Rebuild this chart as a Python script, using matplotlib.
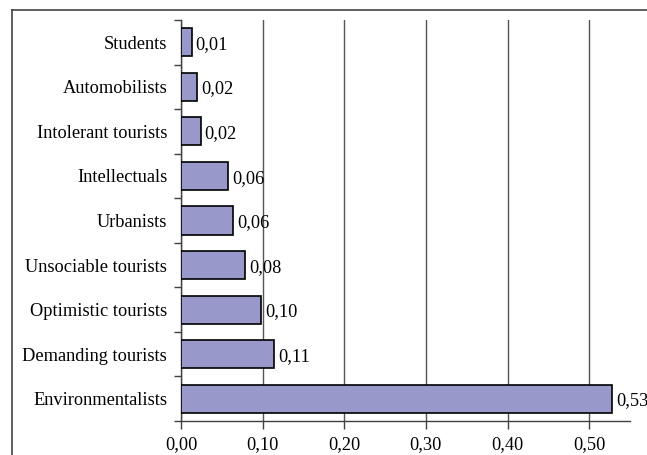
import matplotlib
matplotlib.use("Agg")
import matplotlib.pyplot as plt
import numpy as np
from matplotlib.lines import Line2D

plt.rcParams['font.family'] = ['Liberation Serif', 'DejaVu Serif']

# tourist segments, top to bottom
segments = ["Students", "Automobilists", "Intolerant tourists", "Intellectuals",
            "Urbanists", "Unsociable tourists", "Optimistic tourists",
            "Demanding tourists", "Environmentalists"]
shares = [0.013, 0.020, 0.024, 0.058, 0.064, 0.079, 0.098, 0.114, 0.528]
xticks = [0.0, 0.1, 0.2, 0.3, 0.4, 0.5]

fs = 13.2

fig = plt.figure(figsize=(6.47, 4.55), dpi=100)
ax = fig.add_axes([0.2797, 0.0747, 0.9737 - 0.2797, 0.956 - 0.0747])

pos = np.arange(len(segments))
ax.barh(pos, shares, height=0.63, color="#9898cb", edgecolor="black",
        linewidth=1.2, zorder=3)

for p, v in zip(pos, shares):
    ax.text(v + 0.005, p + 0.05, ("%.2f" % v).replace(".", ","),
            va="center", ha="left", fontsize=fs, zorder=4)

ax.set_ylim(len(segments) - 0.5, -0.5)
ax.set_xlim(0, 0.55)

ax.set_yticks(pos)
ax.set_yticklabels(segments, fontsize=fs)
ax.set_yticks(np.arange(len(segments) + 1) - 0.5, minor=True)
ax.tick_params(axis="y", which="major", length=0, pad=10)
ax.tick_params(axis="y", which="minor", length=5, width=1, color="#404040",
               direction="out")

ax.set_xticks(xticks)
ax.set_xticklabels([("%.2f" % t).replace(".", ",") for t in xticks], fontsize=fs)
ax.tick_params(axis="x", length=6, width=1, color="#404040", direction="out",
               pad=5)

ax.xaxis.grid(True, color="#555555", linewidth=1.0, zorder=0)
ax.set_axisbelow(True)

for s in ["top", "right"]:
    ax.spines[s].set_visible(False)
for s in ["left", "bottom"]:
    ax.spines[s].set_color("#404040")
    ax.spines[s].set_linewidth(1.0)

# outer frame (top and left edges)
fig.add_artist(Line2D([12 / 647, 1.0], [1 - 10 / 455, 1 - 10 / 455],
                      color="#444444", linewidth=1.2, transform=fig.transFigure))
fig.add_artist(Line2D([12 / 647, 12 / 647], [0.0, 1 - 10 / 455],
                      color="#444444", linewidth=1.2, transform=fig.transFigure))

fig.savefig("out.png", dpi=100)
